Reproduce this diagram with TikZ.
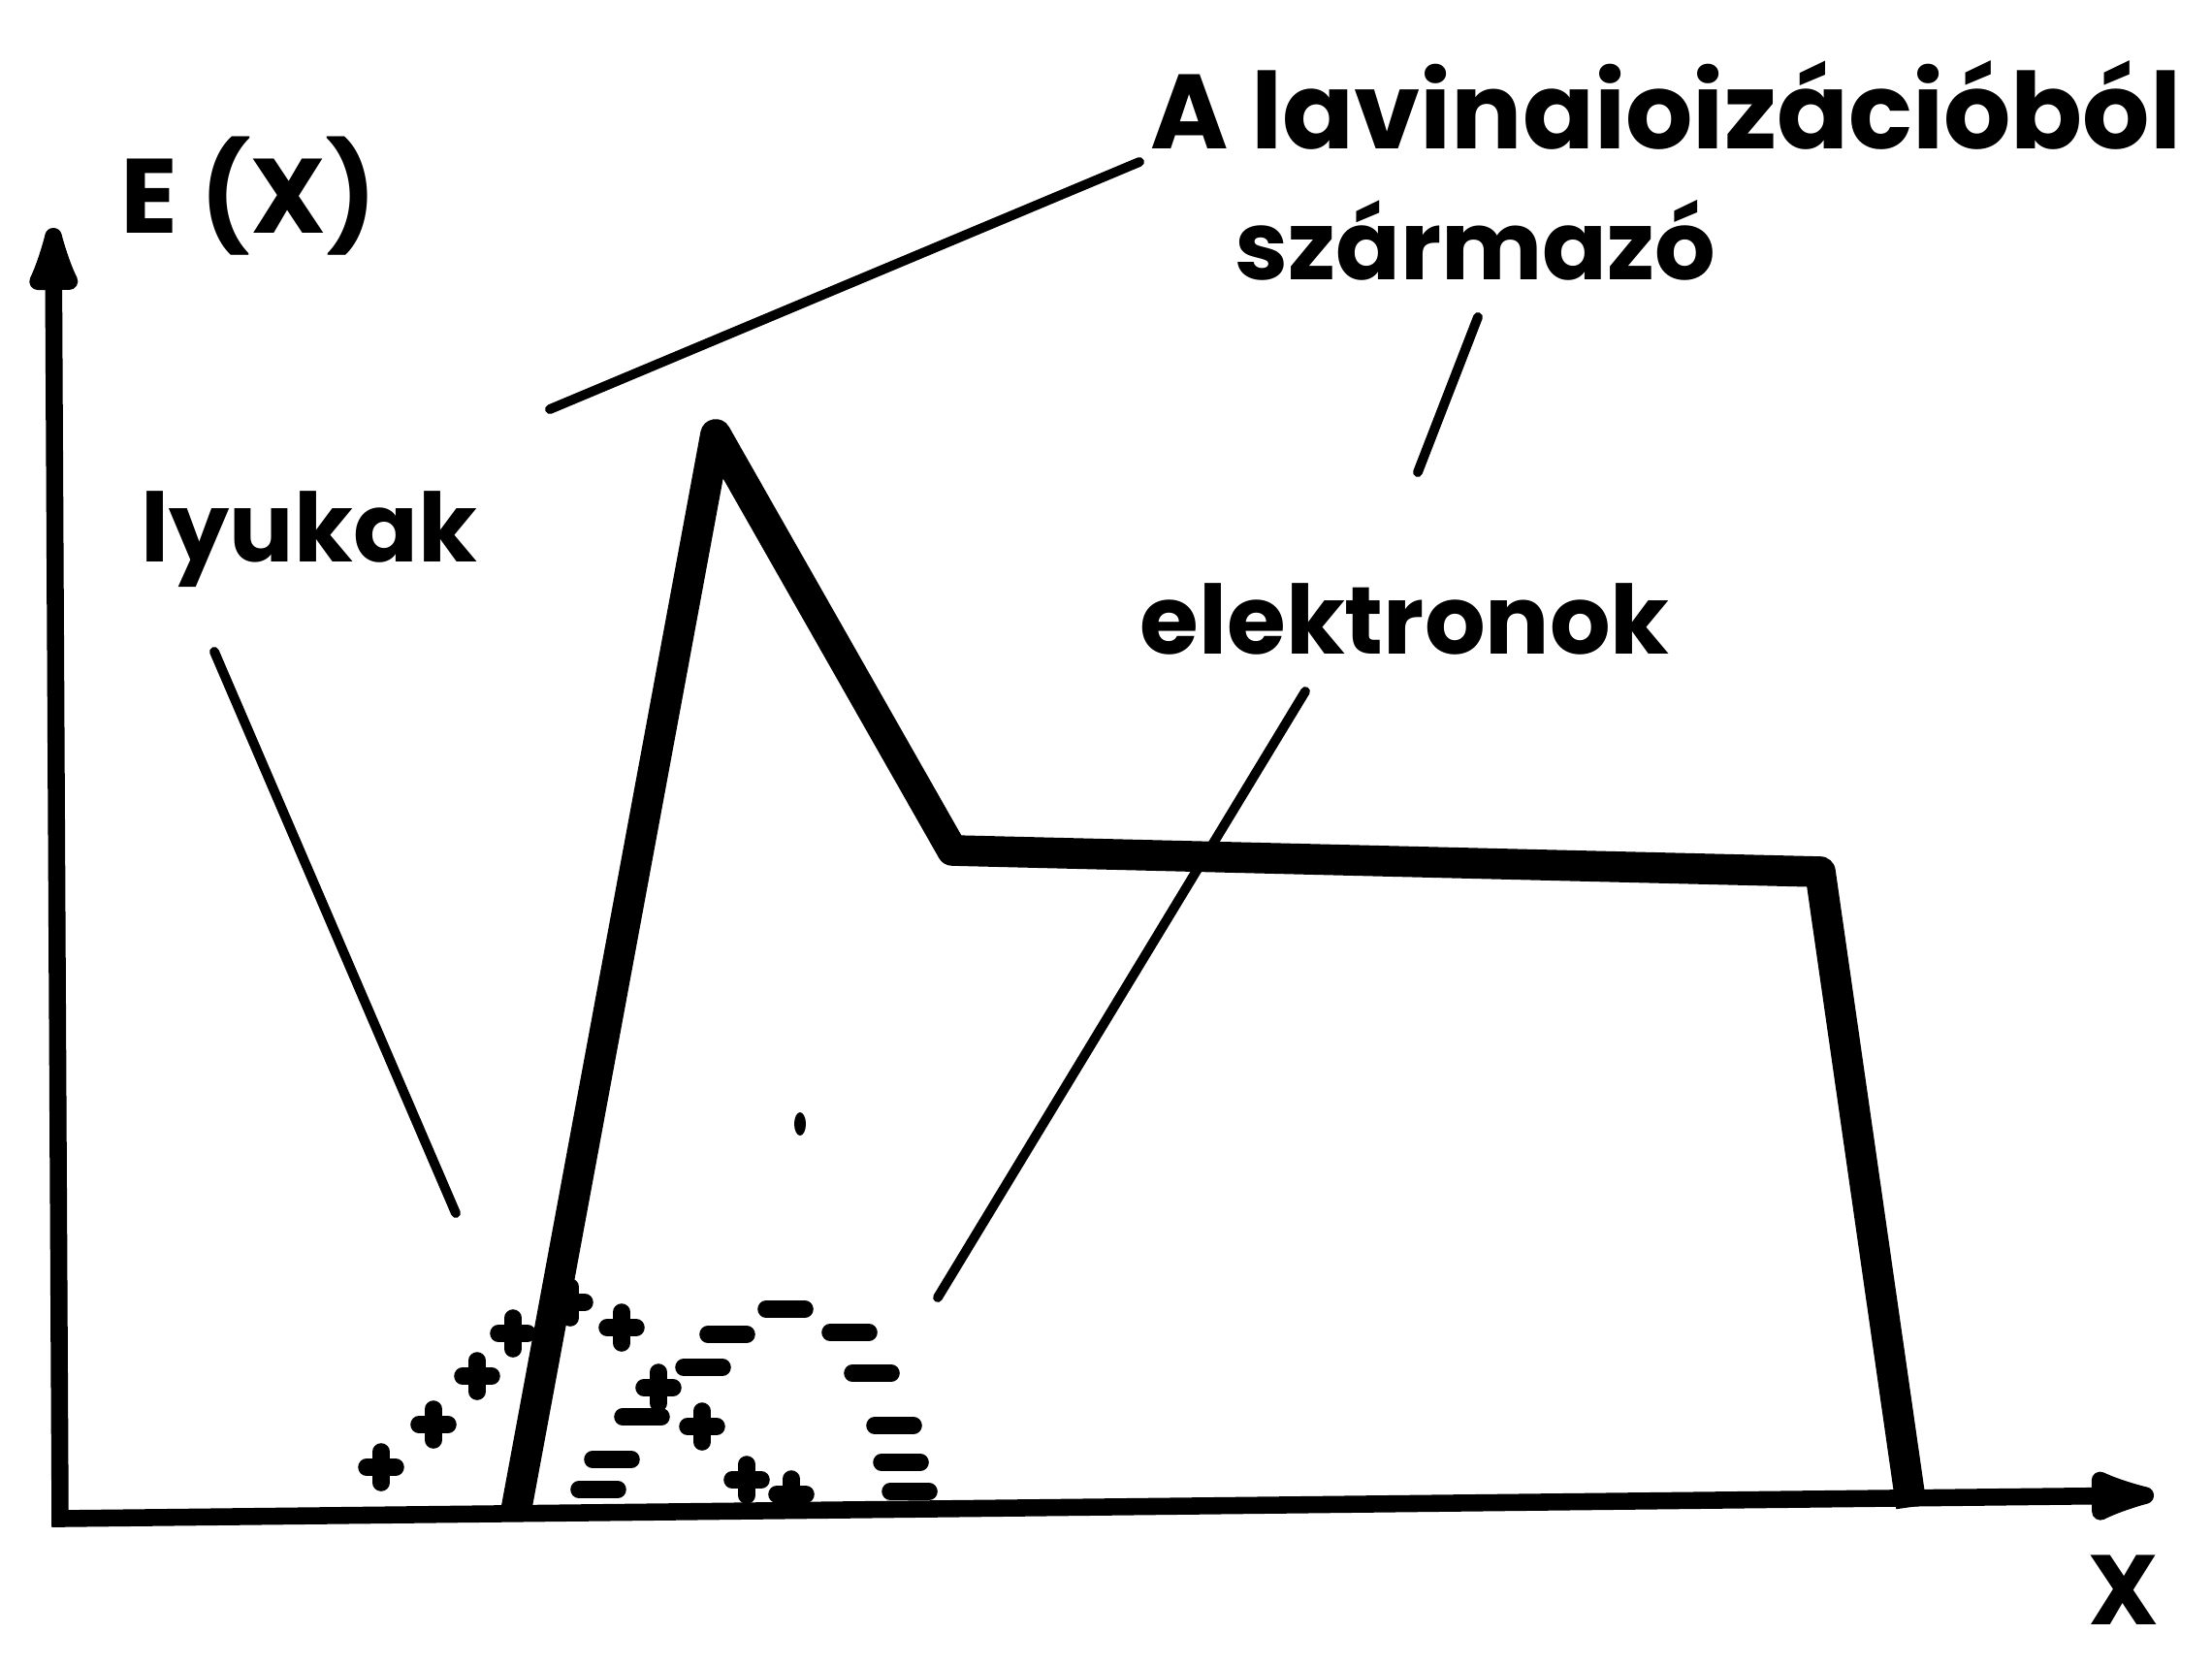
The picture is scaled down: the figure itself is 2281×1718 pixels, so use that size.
\documentclass[tikz,border=0pt]{standalone}
\usepackage{fontspec}
\setmainfont{Poppins}
\usetikzlibrary{arrows.meta,positioning,calc}
\tikzset{
  plusjel/.pic={\draw[jel] (-15,0) -- (15,0) (0,-16) -- (0,16);},
  minuszjel/.pic={\draw[jel] (-20,0) -- (20,0);}
}
\begin{document}
\begin{tikzpicture}[
  x=0.01cm, y=-0.01cm,
  felirat/.style={inner sep=0pt, anchor=base west, font=\fontsize{29}{34}\selectfont\bfseries},
  tengely/.style={line width=5pt, line join=miter,
                  {Latex[length=10mm,width=6mm,round]}-{Latex[length=10mm,width=6mm,round]}},
  gorbe/.style={line width=9pt, line join=round},
  mutato/.style={line width=2.8pt, line cap=round},
  jel/.style={line width=5pt, line cap=round}
]
\useasboundingbox (0,0) rectangle (2281,1718);
\coordinate (origo) at (62,1566);
\coordinate (yveg) at (55,235);
\coordinate (xveg) at (2221,1542);
\draw[tengely] (yveg) -- (origo) -- (xveg);
\node[felirat, font=\fontsize{31}{36}\selectfont\bfseries] (ex) at (124,240) {E (X)};
\node[felirat, anchor=center, inner sep=4pt] (xlab) at (2190,1640) {X};
\draw[gorbe] (531,1564) -- (738,448) -- (982,877) -- (1877,899) -- (1971,1554);
\node[felirat, font=\fontsize{31}{36}\selectfont\bfseries] (lavina) at (1186,153) {A lavinaioizációból};
\node[felirat, font=\fontsize{28}{34}\selectfont\bfseries] (szarm) at (1273,288) {származó};
\node[felirat, font=\fontsize{28}{34}\selectfont\bfseries] (lyuk) at (145,579) {lyukak};
\node[felirat, font=\fontsize{28}{34}\selectfont\bfseries] (elek) at (1175,674) {elektronok};
\coordinate (la1) at (1175,167);
\coordinate (la2) at (567,422);
\coordinate (sz1) at (1524,327);
\coordinate (sz2) at (1462,487);
\coordinate (ly1) at (221,672);
\coordinate (ly2) at (470,1251);
\coordinate (el1) at (1346,713);
\coordinate (el2) at (967,1338);
\draw[mutato] (la1) -- (la2);
\draw[mutato] (sz1) -- (sz2);
\draw[mutato] (ly1) -- (ly2);
\draw[mutato] (el1) -- (el2);
\fill (825,1159) ellipse (6 and 12);
\foreach \p in {(393,1513),(447,1469),(492,1419),(529,1375),(588,1343),
                (641,1369),(679,1431),(724,1471),(770,1526),(816,1541)}
  \pic at \p {plusjel};
\foreach \m in {(810,1350),(750,1376),(876,1374),(725,1410),(899,1416),(662,1461),
                (922,1470),(631,1505),(929,1508),(617,1536),(938,1538)}
  \pic at \m {minuszjel};
\end{tikzpicture}
\end{document}
